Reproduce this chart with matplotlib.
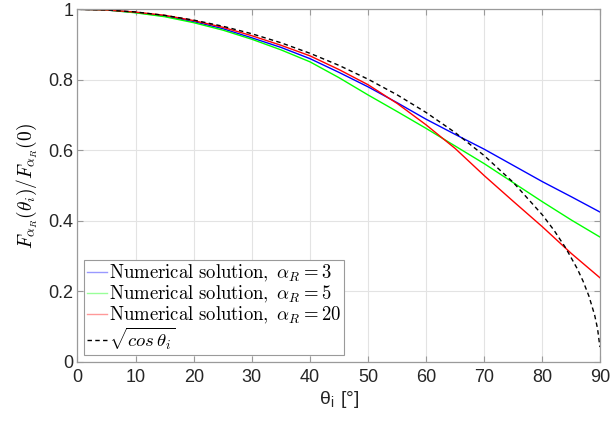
"""
Normalised F_alpha_R(theta_i) curves against sqrt(cos theta_i)
"""

import matplotlib
matplotlib.use('Agg')
import matplotlib.pyplot as plt
from matplotlib.ticker import FormatStrFormatter

# angle grid of the numerical solutions (deg)
theta = [0, 5, 10, 15, 20, 25, 30, 35, 40, 45, 50, 55, 60, 65, 70, 75, 80, 85, 90]

# numerical solutions
f_alpha3 = [1.0, 0.998, 0.991, 0.981, 0.965, 0.945, 0.919, 0.892, 0.860, 0.821,
            0.780, 0.735, 0.688, 0.645, 0.603, 0.557, 0.511, 0.468, 0.424]
f_alpha5 = [1.0, 0.998, 0.990, 0.979, 0.962, 0.941, 0.915, 0.885, 0.851, 0.806,
            0.757, 0.710, 0.662, 0.612, 0.562, 0.508, 0.454, 0.402, 0.353]
f_alpha20 = [1.0, 0.998, 0.992, 0.983, 0.968, 0.949, 0.925, 0.898, 0.868, 0.829,
             0.786, 0.733, 0.672, 0.605, 0.528, 0.455, 0.383, 0.307, 0.237]

# reference curve sqrt(cos theta)
theta_ref = [0, 5, 10, 15, 20, 25, 30, 35, 40, 45, 50, 55, 60, 65, 70, 75, 80,
             82, 84, 86, 87, 88, 89, 89.5, 89.9]
f_ref = [1.0, 0.9981, 0.9924, 0.9828, 0.9694, 0.9520, 0.9306, 0.9051, 0.8752,
         0.8409, 0.8017, 0.7574, 0.7071, 0.6501, 0.5848, 0.5087, 0.4167,
         0.3731, 0.3233, 0.2641, 0.2288, 0.1868, 0.1321, 0.0934, 0.0418]

alpha_values = [3, 5, 20]
x_ticks = [0, 10, 20, 30, 40, 50, 60, 70, 80, 90]
y_ticks = [0, 0.2, 0.4, 0.6, 0.8, 1]

plt.rcParams['font.family'] = ['Liberation Sans', 'DejaVu Sans']
plt.rcParams['mathtext.fontset'] = 'cm'

fig = plt.figure(figsize=(6.11, 4.22), dpi=100)
ax = fig.add_axes([0.1268, 0.1427, 0.8560, 0.8353])

# curves
series = [f_alpha3, f_alpha5, f_alpha20]
colors = ['#0000ff', '#00ff00', '#ff0000']
for vals, col, a in zip(series, colors, alpha_values):
    ax.plot(theta, vals, color=col, linewidth=1.0,
            label=r'$\mathrm{Numerical\ solution,}\ \alpha_R = %d$' % a)
ax.plot(theta_ref, f_ref, color='black', linewidth=1.0, dashes=(3.2, 2.4),
        label=r'$\sqrt{cos\,\theta_i}$')

ax.set_xlim(0, 90)
ax.set_ylim(0, 1)
ax.set_xticks(x_ticks)
ax.set_yticks(y_ticks)
ax.yaxis.set_major_formatter(FormatStrFormatter('%g'))

# matlab-like axes look
ax.grid(True, color='#e3e3e3', linewidth=0.8)
ax.set_axisbelow(True)
for s in ax.spines.values():
    s.set_color('#9a9a9a')
    s.set_linewidth(0.9)
ax.tick_params(direction='in', length=4, width=0.8, color='#9a9a9a',
               labelcolor='#262626', labelsize=13, top=True, right=True)
ax.tick_params(axis='x', pad=5)
ax.tick_params(axis='y', pad=3)

ax.set_xlabel(r'θ$_{\mathregular{i}}$ [°]', fontsize=14, color='#262626', labelpad=2)
ax.set_ylabel(r'$F_{\alpha_R}(\theta_i)/F_{\alpha_R}(0)$', fontsize=14, labelpad=6)

leg = ax.legend(loc='lower left', fontsize=13.5, frameon=True, fancybox=False,
                edgecolor='#9a9a9a', framealpha=1, handlelength=1.1,
                handletextpad=0.1, borderpad=0.15, labelspacing=0.0,
                borderaxespad=0.35)
leg.get_frame().set_linewidth(0.8)
# legend samples of the coloured curves appear faded
for h in leg.legend_handles[:3]:
    h.set_alpha(0.4)

fig.savefig('out.png', dpi=100)
